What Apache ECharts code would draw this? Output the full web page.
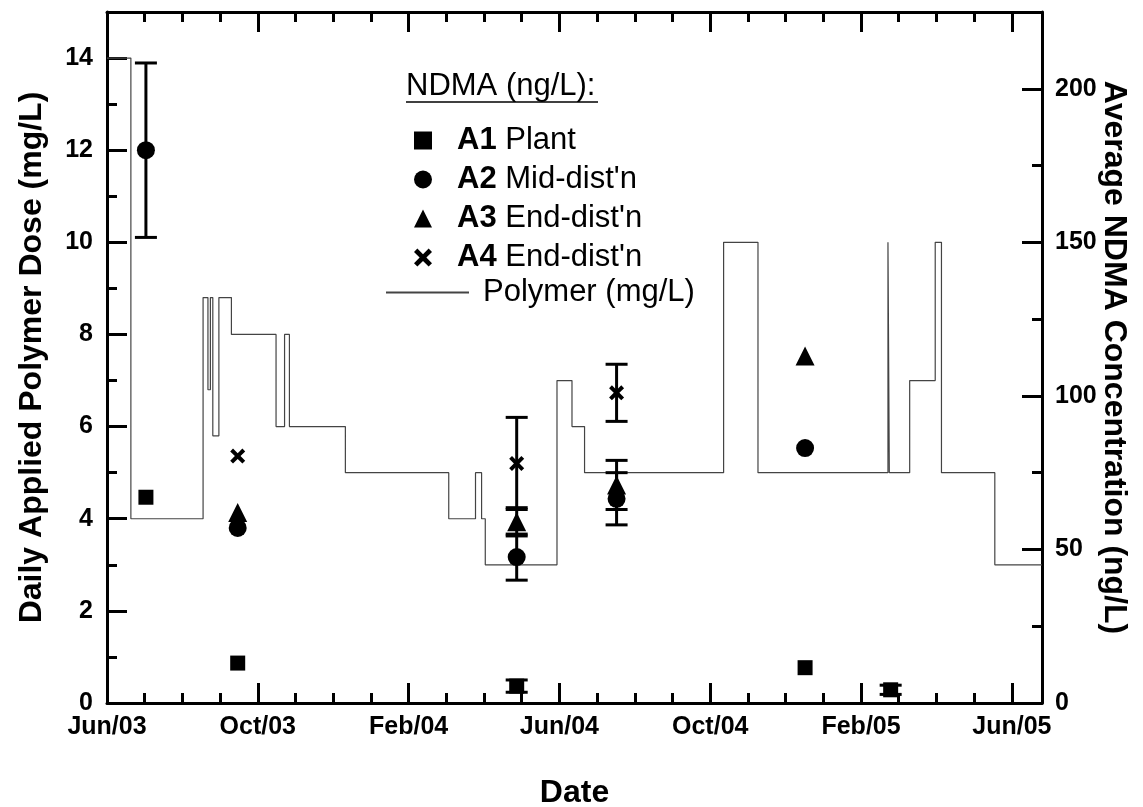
<!DOCTYPE html>
<html lang="en">
<head>
<meta charset="UTF-8">
<title>Polymer dose and NDMA</title>
<style>
  html, body { margin: 0; padding: 0; background: #fff; }
  #chart { width: 1143px; height: 807px; }
</style>
</head>
<body>
<div id="chart"></div>
<script src="https://cdn.jsdelivr.net/npm/echarts@6/dist/echarts.min.js"></script>
<script>
  // x axis is counted in months from 1 Jun 2003
  const xTickLabels = ['Jun/03', 'Oct/03', 'Feb/04', 'Jun/04', 'Oct/04', 'Feb/05', 'Jun/05']

  // polymer dose (mg/L): each level holds from its date until the next date
  const polymerDates = ['2003-06-01', '2003-06-20', '2003-08-18', '2003-08-22', '2003-08-24', '2003-08-26',
    '2003-08-31', '2003-09-10', '2003-10-16', '2003-10-23', '2003-10-27', '2003-12-11', '2004-03-03',
    '2004-03-25', '2004-03-30', '2004-04-02', '2004-05-30', '2004-06-11', '2004-06-21', '2004-10-12',
    '2004-11-09', '2005-02-21', '2005-02-22', '2005-03-10', '2005-03-31', '2005-04-05', '2005-05-18', '2005-06-25']
  const polymerDose = [14, 4, 8.8, 6.8, 8.8, 5.8, 8.8, 8, 6, 8, 6, 5, 4, 5, 4, 3, 7, 6, 5, 10, 5, 10, 5, 7, 10, 5, 3, 3]

  // NDMA sampling (ng/L), error = half-width of the bar, 0 = no bar
  const ndmaDates = ['2003-07-02', '2003-09-15', '2004-04-27', '2004-07-17', '2004-12-17', '2005-02-23']
  const a1Plant = [67, 13, 5.5, null, 11.5, 4.3]
  const a1Err = [0, 0, 2, 0, 0, 1.5]
  const a2Mid = [180, 57, 47.5, 66.5, 83, null]
  const a2Err = [28.4, 0, 7.5, 8.5, 0, 0]
  const a3End = [null, 62, 59, 71, 113, null]
  const a3Err = [0, 0, 4.6, 8, 0, 0]
  const a4End = [null, 80.4, 78, 101, null, null]
  const a4Err = [0, 0, 15, 9.3, 0, 0]

  const FONT = 'Liberation Sans'
  const crossPath = 'path://M3,0 L8,5 L13,0 L16,3 L11,8 L16,13 L13,16 L8,11 L3,16 L0,13 L5,8 L0,3 Z'

  function monthPos(s) {
    const [y, m, d] = s.split('-').map(Number)
    const days = new Date(y, m, 0).getDate()
    return (y - 2003) * 12 + (m - 6) + (d - 1) / days
  }

  const points = vals => ndmaDates
    .map((d, i) => [monthPos(d), vals[i]])
    .filter(p => p[1] != null)

  const bars = (vals, errs) => ndmaDates
    .map((d, i) => [monthPos(d), vals[i] - errs[i], vals[i] + errs[i]])
    .filter((p, i) => vals[i] != null && errs[i] > 0)

  function renderBar(params, api) {
    const x = api.value(0)
    const lo = api.coord([x, api.value(1)])
    const hi = api.coord([x, api.value(2)])
    const style = { stroke: '#000', lineWidth: 3 }
    const half = 11
    return {
      type: 'group',
      children: [
        { type: 'line', shape: { x1: lo[0], y1: lo[1], x2: hi[0], y2: hi[1] }, style },
        { type: 'line', shape: { x1: lo[0] - half, y1: lo[1], x2: lo[0] + half, y2: lo[1] }, style },
        { type: 'line', shape: { x1: hi[0] - half, y1: hi[1], x2: hi[0] + half, y2: hi[1] }, style }
      ]
    }
  }

  // onZero off so the top and right axes stay on their own edges
  const axisLine = { show: true, onZero: false, lineStyle: { color: '#000', width: 3 } }
  const majorTick = { show: true, inside: true, length: 20, lineStyle: { color: '#000', width: 3 } }
  const minorTick = n => ({ show: true, splitNumber: n, length: 10, lineStyle: { color: '#000', width: 3 } })
  const tickLabel = { color: '#000', fontSize: 25, fontWeight: 'bold', fontFamily: FONT }
  const nameStyle = { color: '#000', fontSize: 32, fontWeight: 'bold', fontFamily: FONT }
  const markStyle = { color: '#000', opacity: 1 }
  const legendFont = 31

  const chart = echarts.init(document.getElementById('chart'))

  const option = {
    animation: false,
    backgroundColor: '#fff',
    grid: { left: 107, right: 101, top: 12, bottom: 104, outerBoundsMode: 'none' },
    xAxis: [
      {
        type: 'value', position: 'bottom', min: 0, max: 24.8, interval: 4,
        axisLine, axisTick: majorTick, minorTick: minorTick(4),
        axisLabel: Object.assign({
          margin: 12, showMaxLabel: false,
          formatter: v => (v % 4 === 0 ? xTickLabels[v / 4] : '')
        }, tickLabel),
        splitLine: { show: false },
        name: 'Date', nameLocation: 'middle', nameGap: 74, nameTextStyle: nameStyle
      },
      {
        // mirrored ticks along the top edge
        type: 'value', position: 'top', min: 0, max: 24.8, interval: 4,
        axisLine, axisTick: majorTick, minorTick: minorTick(4),
        axisLabel: { show: false },
        splitLine: { show: false }
      }
    ],
    yAxis: [
      {
        type: 'value', position: 'left', min: 0, max: 15, interval: 2,
        axisLine, axisTick: majorTick, minorTick: minorTick(2),
        axisLabel: Object.assign({ margin: 14, showMaxLabel: false }, tickLabel),
        splitLine: { show: false },
        name: 'Daily Applied Polymer Dose (mg/L)', nameLocation: 'middle', nameRotate: 90,
        nameGap: 59, nameTextStyle: nameStyle
      },
      {
        type: 'value', position: 'right', min: 0, max: 225, interval: 50,
        axisLine, axisTick: majorTick, minorTick: minorTick(2),
        axisLabel: Object.assign({ margin: 13, showMaxLabel: false }, tickLabel),
        splitLine: { show: false },
        name: 'Average NDMA Concentration (ng/L)', nameLocation: 'middle', nameRotate: -90,
        nameGap: 56, nameMoveOverlap: false, nameTextStyle: nameStyle
      }
    ],
    legend: [
      {
        data: ['A1 Plant', "A2 Mid-dist'n", "A3 End-dist'n", "A4 End-dist'n"],
        orient: 'vertical', left: 409, top: 120,
        itemWidth: 18, itemHeight: 18, itemGap: 8,
        formatter: n => {
          const parts = n.split(' ')
          return '{gap|}{b|' + parts[0] + '} ' + parts.slice(1).join(' ')
        },
        textStyle: {
          color: '#000', fontSize: legendFont, fontFamily: FONT, lineHeight: 31,
          rich: {
            gap: { width: 20 },
            b: { fontWeight: 'bold', fontSize: legendFont, fontFamily: FONT, color: '#000', lineHeight: 31 }
          }
        }
      },
      {
        data: ['Polymer (mg/L)'],
        orient: 'vertical', left: 380, top: 272,
        itemWidth: 83, itemHeight: 18,
        itemStyle: { opacity: 0 },
        formatter: n => '{gap|}' + n,
        textStyle: {
          color: '#000', fontSize: legendFont, fontFamily: FONT, lineHeight: 31,
          rich: { gap: { width: 9 } }
        }
      }
    ],
    graphic: [
      {
        type: 'text', left: 406, top: 71,
        style: { text: 'NDMA (ng/L):', fill: '#000', fontSize: legendFont, fontFamily: FONT }
      },
      {
        type: 'line', shape: { x1: 406, y1: 102, x2: 598, y2: 102 },
        style: { stroke: '#000', lineWidth: 1.5 }
      }
    ],
    series: [
      {
        name: 'Polymer (mg/L)', type: 'line', step: 'end',
        xAxisIndex: 0, yAxisIndex: 0,
        symbol: 'none', showSymbol: false,
        itemStyle: { color: '#444' },
        lineStyle: { color: '#444', width: 1.2 },
        data: polymerDates.map((d, i) => [monthPos(d), polymerDose[i]]),
        z: 1
      },
      ...[[a1Plant, a1Err], [a2Mid, a2Err], [a3End, a3Err], [a4End, a4Err]].map(([v, e]) => ({
        type: 'custom', xAxisIndex: 0, yAxisIndex: 1,
        renderItem: renderBar,
        encode: { x: 0, y: [1, 2] },
        data: bars(v, e),
        z: 2
      })),
      {
        name: 'A1 Plant', type: 'scatter', xAxisIndex: 0, yAxisIndex: 1,
        symbol: 'rect', symbolSize: 15, itemStyle: markStyle,
        data: points(a1Plant), z: 3
      },
      {
        name: "A2 Mid-dist'n", type: 'scatter', xAxisIndex: 0, yAxisIndex: 1,
        symbol: 'circle', symbolSize: 18, itemStyle: markStyle,
        data: points(a2Mid), z: 3
      },
      {
        name: "A3 End-dist'n", type: 'scatter', xAxisIndex: 0, yAxisIndex: 1,
        symbol: 'triangle', symbolSize: 19, itemStyle: markStyle,
        data: points(a3End), z: 3
      },
      {
        name: "A4 End-dist'n", type: 'scatter', xAxisIndex: 0, yAxisIndex: 1,
        symbol: crossPath, symbolSize: 15, itemStyle: markStyle,
        data: points(a4End), z: 3
      }
    ]
  }

  chart.setOption(option)
</script>
</body>
</html>
